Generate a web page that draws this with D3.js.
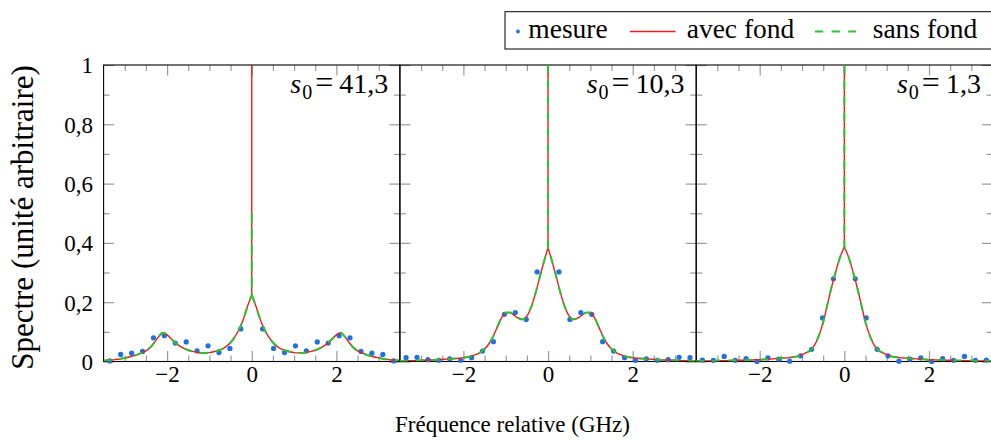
<!DOCTYPE html>
<html><head><meta charset="utf-8">
<script src="https://cdn.jsdelivr.net/npm/d3@7"></script>
<style>
body{margin:0;background:#fff}
svg{display:block}
text{font-family:"Liberation Serif","Times New Roman",serif;fill:#000}
</style>
</head><body>
<svg id="c" width="991" height="441"></svg>
<script>
// ---------- data ----------
const panelLabels = ["41,3", "10,3", "1,3"];
const legendLabels = ["mesure", "avec fond", "sans fond"];
const xLabel = "Fréquence relative (GHz)";
const yLabel = "Spectre (unité arbitraire)";

const xMajorTicks = [-2, 0, 2];
const xMinorTicks = [-3, -2.5, -1.5, -1, -0.5, 0.5, 1, 1.5, 2.5, 3];
const yMajorTicks = [0, 0.2, 0.4, 0.6, 0.8, 1];
const yTickLabels = ["0", "0,2", "0,4", "0,6", "0,8", "1"];
const yMinorTicks = [0.1, 0.3, 0.5, 0.7, 0.9];

// fitted curves, sampled every 0.1 GHz
const fitX = [-3.5,-3.4,-3.3,-3.2,-3.1,-3.0,-2.9,-2.8,-2.7,-2.6,-2.5,-2.4,-2.3,-2.2,-2.1,-2.0,-1.9,-1.8,-1.7,-1.6,-1.5,-1.4,-1.3,-1.2,-1.1,-1.0,-0.9,-0.8,-0.7,-0.6,-0.5,-0.4,-0.3,-0.2,-0.1,0,
  0.1,0.2,0.3,0.4,0.5,0.6,0.7,0.8,0.9,1.0,1.1,1.2,1.3,1.4,1.5,1.6,1.7,1.8,1.9,2.0,2.1,2.2,2.3,2.4,2.5,2.6,2.7,2.8,2.9,3.0,3.1,3.2,3.3,3.4,3.5];

const fitAvec1 = [0.003,0.004,0.005,0.007,0.009,0.012,0.015,0.019,0.023,0.029,0.036,0.047,0.064,0.084,0.097,0.090,0.076,0.062,0.052,0.044,0.038,0.034,0.031,0.029,0.029,0.030,0.033,0.037,0.042,0.051,0.064,0.083,0.108,0.142,0.186,0.224,
  0.186,0.142,0.108,0.083,0.064,0.051,0.042,0.037,0.033,0.030,0.029,0.029,0.031,0.034,0.038,0.044,0.052,0.062,0.076,0.090,0.097,0.084,0.064,0.047,0.036,0.029,0.023,0.019,0.015,0.012,0.009,0.007,0.005,0.004,0.003];
const fitAvec2 = [0.002,0.002,0.003,0.003,0.003,0.004,0.004,0.005,0.005,0.006,0.007,0.008,0.009,0.010,0.011,0.013,0.015,0.019,0.024,0.031,0.042,0.059,0.084,0.116,0.147,0.165,0.165,0.156,0.146,0.142,0.153,0.183,0.228,0.282,0.335,0.385,
  0.335,0.282,0.228,0.183,0.153,0.142,0.146,0.156,0.165,0.165,0.147,0.116,0.084,0.059,0.042,0.031,0.024,0.019,0.015,0.013,0.011,0.010,0.009,0.008,0.007,0.006,0.005,0.005,0.004,0.004,0.003,0.003,0.003,0.002,0.002];
const fitAvec3 = [0.002,0.002,0.002,0.002,0.002,0.003,0.003,0.003,0.003,0.004,0.004,0.004,0.005,0.005,0.006,0.006,0.007,0.008,0.009,0.010,0.011,0.012,0.013,0.015,0.018,0.023,0.030,0.038,0.056,0.088,0.132,0.192,0.252,0.305,0.352,0.387,
  0.352,0.305,0.252,0.192,0.132,0.088,0.056,0.038,0.030,0.023,0.018,0.015,0.013,0.012,0.011,0.010,0.009,0.008,0.007,0.006,0.006,0.005,0.005,0.004,0.004,0.004,0.003,0.003,0.003,0.003,0.002,0.002,0.002,0.002,0.002];
// background-free fit coincides with the full fit except for the central line
const fitSans1 = fitAvec1;
const fitSans2 = fitAvec2;
const fitSans3 = fitAvec3;
// height of the narrow central (elastic) line at 0 GHz
const spikeAvec = [1.5, 1.5, 1.5];
const spikeSans = [0.51, 1.5, 1.5];

// measured points
const mesureX = [-3.354,-3.096,-2.838,-2.580,-2.322,-2.064,-1.806,-1.548,-1.290,-1.032,-0.774,-0.516,-0.258,
  0.258,0.516,0.774,1.032,1.290,1.548,1.806,2.064,2.322,2.580,2.838,3.096,3.354];
const mesure1 = [0.002,0.024,0.028,0.034,0.080,0.087,0.062,0.066,0.036,0.053,0.030,0.044,0.110,
  0.110,0.044,0.030,0.053,0.036,0.066,0.062,0.087,0.080,0.034,0.028,0.024,0.002];
const mesure2 = [0.013,0.014,0.006,0.004,0.009,0.004,0.013,0.035,0.067,0.159,0.165,0.142,0.302,
  0.302,0.142,0.165,0.159,0.067,0.035,0.013,0.004,0.009,0.004,0.006,0.014,0.013];
const mesure3 = [0.005,0.004,0.017,0.004,0.010,0.000,0.012,0.008,0.001,0.019,0.041,0.147,0.279,
  0.279,0.147,0.041,0.019,0.001,0.008,0.012,0.000,0.010,0.004,0.017,0.004,0.005];

const fitsAvec = [fitAvec1, fitAvec2, fitAvec3];
const fitsSans = [fitSans1, fitSans2, fitSans3];
const mesures = [mesure1, mesure2, mesure3];

// ---------- style ----------
const C_BLUE = "#1f6fe5", C_RED = "#f21b1b", C_GREEN = "#2fbf2f", C_TICK = "#999999";
const FS_TICK = 23;

// ---------- layout ----------
const svg = d3.select("#c");
const plotLeft = 103.6, panelW = 296.3, plotTop = 65, plotBottom = 361.5;
const y = d3.scaleLinear().domain([0, 1]).range([plotBottom, plotTop]);

const defs = svg.append("defs");

panelLabels.forEach((lab, i) => {
  const L = plotLeft + i * panelW, R = L + panelW;
  const x = d3.scaleLinear().domain([-3.5, 3.5]).range([L, R]);
  const g = svg.append("g");

  defs.append("clipPath").attr("id", "clip" + i)
    .append("rect").attr("x", L).attr("y", plotTop).attr("width", panelW).attr("height", plotBottom - plotTop);

  // ticks (inward, on all four sides)
  function tickAxis(axisFn, scale, vals, size, tx, ty) {
    const a = g.append("g").attr("transform", `translate(${tx},${ty})`)
      .call(axisFn(scale).tickValues(vals).tickSizeInner(size).tickSizeOuter(0).tickFormat(""));
    a.select(".domain").remove();
    a.selectAll("line").attr("stroke", C_TICK).attr("stroke-width", 1.2);
    a.selectAll("text").remove();
    return a;
  }
  tickAxis(d3.axisBottom, x, xMajorTicks, -10.5, 0, plotBottom);
  tickAxis(d3.axisBottom, x, xMinorTicks, -6, 0, plotBottom);
  tickAxis(d3.axisTop, x, xMajorTicks, -10.5, 0, plotTop);
  tickAxis(d3.axisTop, x, xMinorTicks, -6, 0, plotTop);
  tickAxis(d3.axisLeft, y, yMajorTicks, -10.5, L, 0);
  tickAxis(d3.axisLeft, y, yMinorTicks, -6, L, 0);
  tickAxis(d3.axisRight, y, yMajorTicks, -10.5, R, 0);
  tickAxis(d3.axisRight, y, yMinorTicks, -6, R, 0);

  // x tick labels
  const xl = g.append("g").attr("transform", `translate(0,${plotBottom})`)
    .call(d3.axisBottom(x).tickValues(xMajorTicks).tickSize(0).tickFormat(d3.format("d")));
  xl.select(".domain").remove();
  xl.selectAll("text").attr("y", 20.5).attr("dy", null)
    .attr("font-family", "Liberation Serif").attr("font-size", FS_TICK).attr("fill", "#000");

  // y tick labels (first panel only)
  if (i === 0) {
    const yl = g.append("g").attr("transform", `translate(${L},0)`)
      .call(d3.axisLeft(y).tickValues(yMajorTicks).tickSize(0).tickPadding(10.6)
        .tickFormat((d, k) => yTickLabels[k]));
    yl.select(".domain").remove();
    yl.selectAll("text").attr("dy", "0.34em")
      .attr("font-family", "Liberation Serif").attr("font-size", FS_TICK).attr("fill", "#000");
  }

  // frame
  g.append("rect").attr("x", L).attr("y", plotTop).attr("width", panelW).attr("height", plotBottom - plotTop)
    .attr("fill", "none").attr("stroke", "#000").attr("stroke-width", 1.1);

  // measured points (not clipped)
  g.append("g").selectAll("circle").data(mesureX.map((v, k) => [v, mesures[i][k]])).join("circle")
    .attr("cx", d => x(d[0])).attr("cy", d => y(d[1])).attr("r", 2.6).attr("fill", C_BLUE);

  // fitted curves
  const line = d3.line().x(d => x(d[0])).y(d => y(d[1])).curve(d3.curveMonotoneX);
  function fitPath(vals, spike) {
    const pts = fitX.map((v, k) => [v, vals[k]]);
    const left = pts.filter(p => p[0] <= 0), right = pts.filter(p => p[0] >= 0);
    const c = right[0];
    return line(left) + `L${x(c[0])},${y(spike)}L${x(c[0])},${y(c[1])}` + line(right).replace(/^M/, "L");
  }
  const cg = g.append("g").attr("clip-path", `url(#clip${i})`);
  cg.append("path").attr("d", fitPath(fitsAvec[i], spikeAvec[i]))
    .attr("fill", "none").attr("stroke", C_RED).attr("stroke-width", 1.4).attr("stroke-linejoin", "round");
  cg.append("path").attr("d", fitPath(fitsSans[i], spikeSans[i]))
    .attr("fill", "none").attr("stroke", C_GREEN).attr("stroke-width", 2).attr("stroke-dasharray", "8,8");

  // panel label  s0 = ...  (right aligned as a whole)
  const t = g.append("text").attr("x", R - 11.6).attr("y", 93.3).attr("text-anchor", "end").attr("font-size", 28);
  t.append("tspan").attr("font-style", "italic").text("s");
  t.append("tspan").attr("font-size", 20).attr("dx", 1).attr("dy", 5.5).text("0");
  t.append("tspan").attr("font-size", 32).attr("dx", 3).attr("dy", -5.5).text("=");
  t.append("tspan").attr("dx", 6).text(lab);
});

// axis titles
svg.append("text").attr("x", 512.5).attr("y", 432).attr("text-anchor", "middle")
  .attr("font-size", 23).text(xLabel);
svg.append("text").attr("transform", "translate(33,217.5) rotate(-90)").attr("text-anchor", "middle")
  .attr("font-size", 31).text(yLabel);

// legend
const lg = svg.append("g").attr("font-size", 27.5);
lg.append("rect").attr("x", 505).attr("y", 11.7).attr("width", 487).attr("height", 37.3)
  .attr("fill", "#fff").attr("stroke", "#000").attr("stroke-width", 1);
lg.append("circle").attr("cx", 518).attr("cy", 31.5).attr("r", 1.9).attr("fill", C_BLUE);
lg.append("text").attr("x", 528.3).attr("y", 37.5).text(legendLabels[0]);
lg.append("line").attr("x1", 630).attr("x2", 675.5).attr("y1", 31.5).attr("y2", 31.5)
  .attr("stroke", C_RED).attr("stroke-width", 1.4);
lg.append("text").attr("x", 686.7).attr("y", 37.5).text(legendLabels[1]);
lg.append("line").attr("x1", 815).attr("x2", 856).attr("y1", 31.5).attr("y2", 31.5)
  .attr("stroke", C_GREEN).attr("stroke-width", 2).attr("stroke-dasharray", "8.3,8.3");
lg.append("text").attr("x", 872.7).attr("y", 37.5).text(legendLabels[2]);
</script>
</body></html>
